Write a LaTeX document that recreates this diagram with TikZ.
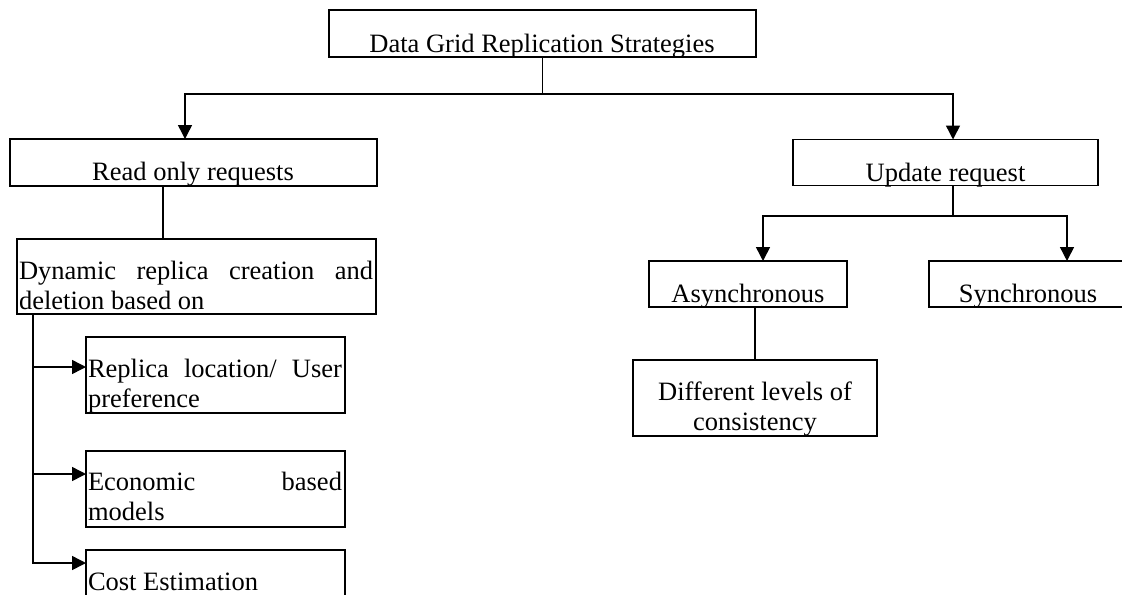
\documentclass[tikz,border=0pt]{standalone}
\usepackage{fontspec}
\setmainfont{Liberation Serif}
\usetikzlibrary{arrows.meta}
\begin{document}
\begin{tikzpicture}[x=0.5pt,y=-0.5pt,
  every node/.style={inner sep=0pt, outer sep=0pt},
  box/.style={draw, line width=0.75pt},
  lbl/.style={font=\fontsize{13.25}{15}\selectfont, anchor=base},
  para/.style={font=\fontsize{13.25}{15}\selectfont, anchor=base west},
  link/.style={line width=0.75pt},
  arr/.style={line width=0.75pt, -{Triangle[length=7pt,width=7pt]}}]
\clip (0,0) rectangle (1122,594);
\fill[white] (0,0) rectangle (1122,594);

% boxes
\node[box, minimum width=213.5pt, minimum height=23.5pt] (top)   at (542.5,33.5) {};
\node[box, minimum width=183.5pt, minimum height=23.5pt] (read)  at (193.5,162.5) {};
\node[box, minimum width=152.5pt, minimum height=23pt]   (upd)   at (945.5,162.5) {};
\node[box, minimum width=99pt,    minimum height=23pt]   (async) at (748,284) {};
\node[box, minimum width=99pt,    minimum height=23pt]   (sync)  at (1028,284) {};
\node[box, minimum width=122pt,   minimum height=38pt]   (diff)  at (755,398) {};
\node[box, minimum width=179.5pt, minimum height=37.5pt] (dyn)   at (196.5,276.5) {};
\node[box, minimum width=129.5pt, minimum height=38pt]   (b1)    at (215.5,375) {};
\node[box, minimum width=129.5pt, minimum height=38pt]   (b2)    at (215.5,489) {};
\node[box, minimum width=129.5pt, minimum height=38pt]   (b3)    at (215.5,588) {};

% labels
\node[lbl] (ttop)   at (542,52)    {Data Grid Replication Strategies};
\node[lbl] (tread)  at (193,180)   {Read only requests};
\node[lbl] (tupd)   at (945.5,181) {Update request};
\node[lbl] (tasync) at (748,302)   {Asynchronous};
\node[lbl] (tsync)  at (1028,302)  {Synchronous};
\node[para] (tdiff) at (633,430)
  {\parbox[b]{122pt}{\centering Different levels of\\ consistency}};
\node[para] (tdyn)  at (19,309.5)
  {\parbox[b]{177pt}{\makebox[177pt][s]{Dynamic replica creation and}\\ deletion based on}};
\node[para] (tb1)   at (88,407)
  {\parbox[b]{127pt}{\makebox[127pt][s]{Replica location/ User}\\ preference}};
\node[para] (tb2)   at (88,520)
  {\parbox[b]{127pt}{\makebox[127pt][s]{Economic based}\\ models}};
\node[para] (tb3)   at (88,590) {Cost Estimation};

% connectors
\coordinate (split) at (542.5,94);
\draw[link] (top.south) -- (split);
\draw[arr] (split) -| ([xshift=-4.25pt]read.north);
\draw[arr] (split) -| ([xshift=3.75pt]upd.north);

\coordinate (usplit) at (953,216);
\draw[link] ([xshift=3.75pt]upd.south) -- (usplit);
\draw[arr] (usplit) -| ([xshift=7.5pt]async.north);
\draw[arr] (usplit) -| ([xshift=19.5pt]sync.north);
\draw[link] ([xshift=3.5pt]async.south) -- (diff.north);

\draw[link] ([xshift=-15.25pt]read.south) -- ([xshift=-16.75pt]dyn.north);
\draw[arr] ([xshift=-81.75pt]dyn.south) |- ([yshift=4pt]b1.west);
\draw[arr] ([xshift=-81.75pt]dyn.south) |- ([yshift=7.5pt]b2.west);
\draw[arr] ([xshift=-81.75pt]dyn.south) |- ([yshift=12.5pt]b3.west);
\end{tikzpicture}
\end{document}
